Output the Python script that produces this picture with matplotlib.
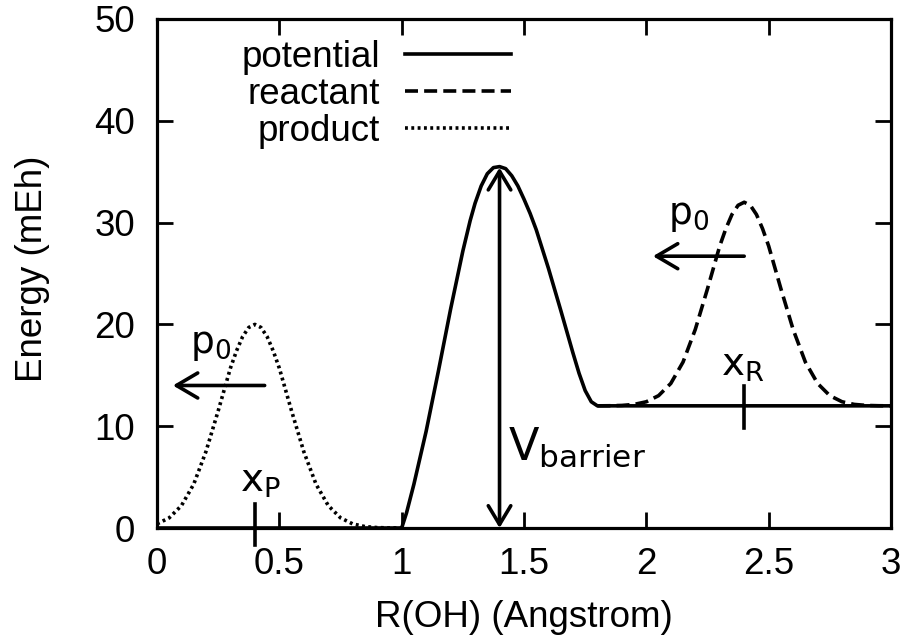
import matplotlib
matplotlib.use('Agg')
import matplotlib.pyplot as plt
from matplotlib.font_manager import FontProperties

plt.rcParams['mathtext.fontset'] = 'dejavusans'

# ---- data ----
pot_x = [0.0, 1.0, 1.02, 1.05, 1.10, 1.15, 1.20, 1.25, 1.28, 1.30, 1.325, 1.35, 1.375, 1.40,
         1.425, 1.45, 1.475, 1.50, 1.525, 1.55, 1.60, 1.65, 1.70, 1.725, 1.75, 1.775, 1.80, 3.0]
pot_y = [0.0, 0.0, 1.5, 4.3, 9.5, 15.4, 21.5, 27.2, 30.2, 31.9, 33.6, 34.8, 35.4, 35.5,
         35.3, 34.6, 33.6, 32.3, 30.9, 29.3, 25.5, 21.4, 17.2, 15.2, 13.5, 12.4, 12.0, 12.0]

reac_x = [1.80, 1.85, 1.90, 1.95, 2.00, 2.05, 2.10, 2.15, 2.20, 2.25, 2.275, 2.30, 2.325,
          2.35, 2.375, 2.40, 2.425, 2.45, 2.475, 2.50, 2.525, 2.55, 2.60, 2.65, 2.70,
          2.75, 2.80, 2.85, 2.90, 2.95, 3.00]
reac_y = [12.0, 12.01, 12.04, 12.14, 12.4, 13.0, 14.2, 16.3, 19.5, 23.5, 25.6, 27.7, 29.4,
          30.8, 31.7, 32.0, 31.7, 30.8, 29.4, 27.7, 25.6, 23.5, 19.5, 16.3, 14.2,
          13.0, 12.4, 12.14, 12.04, 12.01, 12.0]

prod_x = [0.00, 0.05, 0.10, 0.15, 0.20, 0.25, 0.275, 0.30, 0.325, 0.35, 0.375, 0.40,
          0.425, 0.45, 0.475, 0.50, 0.525, 0.55, 0.60, 0.65, 0.70, 0.75, 0.80, 0.85,
          0.90, 0.95, 1.00]
prod_y = [0.4, 1.0, 2.2, 4.3, 7.5, 11.5, 13.6, 15.7, 17.4, 18.8, 19.7, 20.0,
          19.7, 18.8, 17.4, 15.7, 13.6, 11.5, 7.5, 4.3, 2.2, 1.0, 0.4, 0.14,
          0.04, 0.01, 0.0]

series_labels = ['potential', 'reactant', 'product']
x_ticks = [0, 0.5, 1, 1.5, 2, 2.5, 3]
x_ticklabels = ['0', '0.5', '1', '1.5', '2', '2.5', '3']
y_ticks = [0, 10, 20, 30, 40, 50]
y_ticklabels = ['0', '10', '20', '30', '40', '50']

# annotation geometry (data units)
barrier_x = 1.4
barrier_top = 35.4
xR, xR_tick = 2.4, (9.8, 13.9)
xP, xP_tick = 0.4, (-1.7, 2.4)
p0_reac_arrow = ((2.40, 26.7), (2.027, 26.7))
p0_prod_arrow = ((0.44, 14.0), (0.065, 14.0))

# ---- figure ----
W, H = 907, 644
fig = plt.figure(figsize=(W / 100, H / 100), dpi=100)
L, R, T, B = 157, 891, 19, 528
ax = fig.add_axes([L / W, 1 - B / H, (R - L) / W, (B - T) / H])

helv = 'Liberation Sans'
fs = 26.5
lw = 2.6

l1, = ax.plot(pot_x, pot_y, color='black', lw=lw, solid_joinstyle='round', zorder=3)
l2, = ax.plot(reac_x, reac_y, color='black', lw=lw, dashes=(3.6, 1.7), zorder=4)
l3, = ax.plot(prod_x, prod_y, color='black', lw=lw, dashes=(0.8, 0.95), zorder=4)

ax.set_xlim(0, 3)
ax.set_ylim(0, 50)
ax.set_xticks(x_ticks)
ax.set_xticklabels(x_ticklabels)
ax.set_yticks(y_ticks)
ax.set_yticklabels(y_ticklabels)
ax.tick_params(direction='in', length=11.3, width=2.0, top=True, right=True,
               labelsize=fs)
ax.tick_params(axis='x', pad=14)
ax.tick_params(axis='y', pad=16)
for lab in ax.get_xticklabels() + ax.get_yticklabels():
    lab.set_fontfamily(helv)
for sp in ax.spines.values():
    sp.set_linewidth(2.3)

ax.set_xlabel('R(OH) (Angstrom)', fontsize=fs, family=helv, va='center')
ax.xaxis.set_label_coords(0.5, -0.175)
ax.set_ylabel('Energy (mEh)', fontsize=fs, family=helv, va='center')
ax.yaxis.set_label_coords(-0.17, 0.51)

leg = ax.legend([l1, l2, l3], series_labels, loc='upper right',
                bbox_to_anchor=(0.482, 0.958), markerfirst=False, frameon=False,
                handlelength=2.88, handletextpad=0.68, labelspacing=0.05,
                borderpad=0, borderaxespad=0,
                prop=FontProperties(family=helv, size=fs))

# barrier arrow
ax.annotate('', xy=(barrier_x, barrier_top), xytext=(barrier_x, 0),
            arrowprops=dict(arrowstyle='<->,head_length=0.75,head_width=0.45',
                            lw=lw, color='black', shrinkA=0, shrinkB=0,
                            mutation_scale=18), zorder=5)
# momentum arrows
for (start, end) in (p0_reac_arrow, p0_prod_arrow):
    ax.annotate('', xy=end, xytext=start,
                arrowprops=dict(arrowstyle='->,head_length=0.85,head_width=0.5',
                                lw=lw, color='black', shrinkA=0, shrinkB=0,
                                mutation_scale=18), zorder=5)

# position ticks
ax.plot([xR, xR], list(xR_tick), color='black', lw=lw, zorder=5, clip_on=False)
ax.plot([xP, xP], list(xP_tick), color='black', lw=lw, zorder=5, clip_on=False)

# labels
ax.text(2.09, 29.9, r'$\mathrm{p}_{0}$', fontsize=27, ha='left', va='baseline')
ax.text(0.135, 17.2, r'$\mathrm{p}_{0}$', fontsize=27, ha='left', va='baseline')
ax.text(2.307, 15.0, r'$\mathrm{x}_{\mathrm{R}}$', fontsize=28, ha='left', va='baseline')
ax.text(0.339, 3.57, r'$\mathrm{x}_{\mathrm{P}}$', fontsize=28, ha='left', va='baseline')
ax.text(1.435, 6.68, r'$\mathrm{V}_{\mathrm{barrier}}$', fontsize=32, ha='left', va='baseline')

fig.savefig('out.png', dpi=100)
